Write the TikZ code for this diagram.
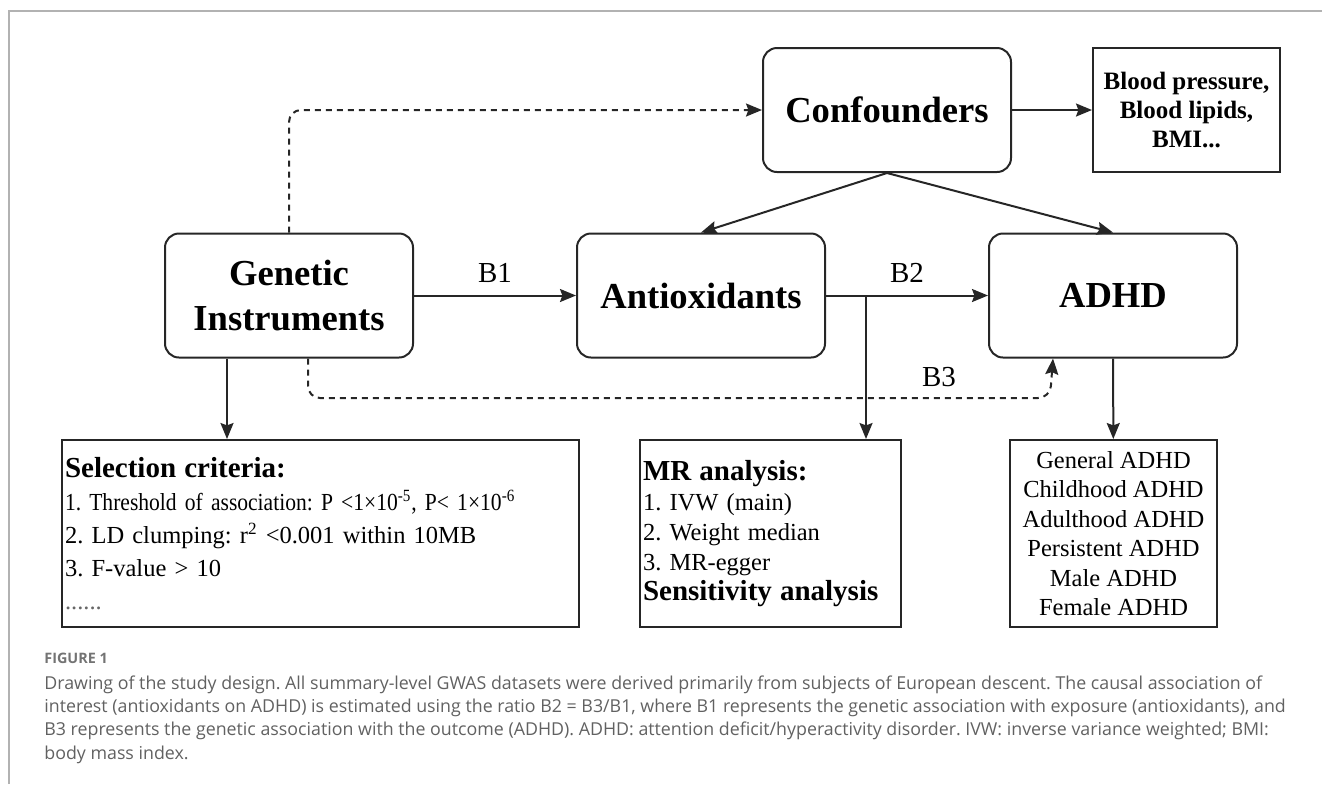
\documentclass[tikz,border=0pt]{standalone}
\usepackage{fontspec}
\setmainfont{Liberation Serif}
\newfontfamily\narrowserif[FakeStretch=0.88]{Liberation Serif}
\newfontfamily\capfont{Open Sans}
\usepackage{tikz}
\usetikzlibrary{arrows.meta}
\usetikzlibrary{positioning}
\frenchspacing
\tikzset{rbox/.style={draw=black!85,line width=1pt,rounded corners=7pt,minimum width=124pt,minimum height=62pt,align=center,font=\fontsize{18.3}{22.5}\selectfont\bfseries},
sbox/.style={draw=black!85,line width=1pt,inner sep=1.5pt,minimum height=93.5pt},
blab/.style={font=\fontsize{14.5}{16}\selectfont},
arr/.style={line width=1pt,draw=black!85,-{Stealth[length=8pt,width=6.5pt,inset=1.2pt]}},
dasharr/.style={arr,dash pattern=on 3pt off 2.5pt,rounded corners=6pt}}

\begin{document}
\begin{tikzpicture}[x=0.5pt,y=-0.5pt]
\useasboundingbox (0,0) rectangle (1322,784);
% frame of the figure
\draw[black!30,line width=0.7pt] (9,784) -- (9,11) -- (1322,11);

\node (gi) at (289,295.5) [rbox] {Genetic\\Instruments};
\node (anti) [rbox, right of=gi, node distance=206pt] {Antioxidants};
\node (adhd) [rbox, right of=anti, node distance=206pt] {ADHD};
\node (conf) at (887,110) [rbox] {Confounders};
\node (bld) at (1186.5,110) [sbox, minimum width=93.5pt, minimum height=62pt, align=center, font=\fontsize{12.5}{14.3}\selectfont\bfseries] {Blood pressure,\\Blood lipids,\\BMI...};

% lower boxes
\node (sel) at (320.5,533.5) [sbox, text width=255.5pt, align=left, font=\fontsize{12.25}{16.5}\selectfont] {{\fontsize{14.5}{17}\selectfont\bfseries Selection criteria:}\\
{\narrowserif 1. Threshold of association: P <1×10\textsuperscript{-5}, P< 1×10\textsuperscript{-6}}\\
2. LD clumping: r\textsuperscript{2} <0.001 within 10MB\\
3. F-value > 10\\
{\color{black!60}......}};
\node (mr) at (770.5,533.5) [sbox, text width=127.5pt, align=left, font=\fontsize{12.25}{15}\selectfont] {{\fontsize{14.5}{17}\selectfont\bfseries MR analysis:}\\
1. IVW (main)\\
2. Weight median\\
3. MR-egger\\
{\fontsize{14.5}{17}\selectfont\bfseries Sensitivity analysis}};
\node (sub) at (1113.5,533.5) [sbox, minimum width=103.5pt, align=center, font=\fontsize{12.25}{14.75}\selectfont] {General ADHD\\Childhood ADHD\\Adulthood ADHD\\Persistent ADHD\\Male ADHD\\Female ADHD};

% arrows
\draw[arr] (gi) -- node[above=2.5pt, blab] (b1) {B1} (anti);
\draw[arr] (anti) -- node[above=2.5pt, blab] (b2) {B2} (adhd);
\draw[arr] (conf) -- (bld);
\draw[arr] (conf.south) -- (anti.north);
\draw[arr] (conf.south) -- (adhd.north);
\draw[arr] ([xshift=20pt]anti.east) -- ([xshift=20pt]anti.east |- mr.north);
\draw[arr] ([xshift=-31pt]gi.south) -- ([xshift=-31pt]gi.south |- sel.north);
\draw[arr] (adhd) -- (sub);
\draw[dasharr] (gi.north) |- (conf.west);
\coordinate (b3c) at (1050,398);
\draw[dasharr] ([xshift=9.5pt]gi.south) |- (b3c) -- ([xshift=-30pt]adhd.south);
\node (b3) at (939,377) [blab] {B3};

% caption
\node (fig) at (44,658) [anchor=west, inner sep=0pt, text=black!55, font=\capfont\fontsize{7.2}{8}\selectfont\bfseries] {FIGURE 1};
\node (cap) at (44,675) [anchor=north west, inner sep=0pt, align=left, text=black!62, font=\capfont\fontsize{8.9}{11.7}\selectfont] {Drawing of the study design. All summary-level GWAS datasets were derived primarily from subjects of European descent. The causal association of\\
interest (antioxidants on ADHD) is estimated using the ratio B2 = B3/B1, where B1 represents the genetic association with exposure (antioxidants), and\\
B3 represents the genetic association with the outcome (ADHD). ADHD: attention deficit/hyperactivity disorder. IVW: inverse variance weighted; BMI:\\
body mass index.};
\end{tikzpicture}
\end{document}
